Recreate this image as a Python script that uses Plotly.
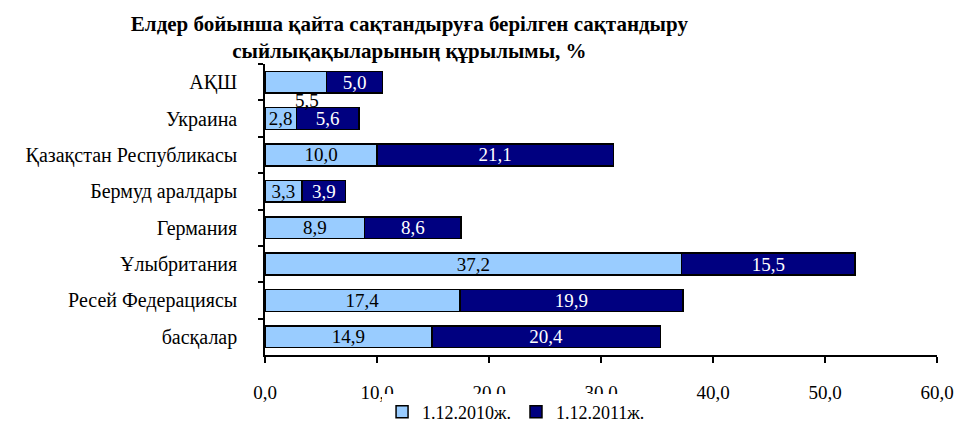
import plotly.graph_objects as go

categories = ["АҚШ", "Украина", "Қазақстан Республикасы", "Бермуд аралдары",
              "Германия", "Ұлыбритания", "Ресей Федерациясы", "басқалар"]
values_2010 = [5.5, 2.8, 10.0, 3.3, 8.9, 37.2, 17.4, 14.9]
values_2011 = [5.0, 5.6, 21.1, 3.9, 8.6, 15.5, 19.9, 20.4]
series_names = ["1.12.2010ж.", "1.12.2011ж."]
x_ticks = [0, 10, 20, 30, 40, 50, 60]

def fmt(v):
    return f"{v:.1f}".replace(".", ",")

FONT = "Liberation Serif, Times New Roman, serif"

# first label (АҚШ 2010) is displaced below the bar in the original
text_2010 = ["" if i == 0 else fmt(v) for i, v in enumerate(values_2010)]
text_2011 = [fmt(v) for v in values_2011]

fig = go.Figure()
fig.add_trace(go.Bar(
    y=categories, x=values_2010, orientation="h", name=series_names[0],
    marker=dict(color="#99CCFF", line=dict(color="black", width=1.5)),
    text=text_2010, textposition="inside", insidetextanchor="middle",
    textfont=dict(color="black", size=19, family=FONT), constraintext="none",
))
fig.add_trace(go.Bar(
    y=categories, x=values_2011, orientation="h", name=series_names[1],
    marker=dict(color="#000080", line=dict(color="black", width=1.5)),
    text=text_2011, textposition="inside", insidetextanchor="middle",
    textfont=dict(color="white", size=19, family=FONT), constraintext="none",
))

fig.add_annotation(
    x=values_2010[0] / 2 + 1.0, y=0.5, xref="x", yref="y",
    text=fmt(values_2010[0]), showarrow=False,
    font=dict(color="black", size=19, family=FONT),
)

fig.update_layout(
    width=961, height=423,
    barmode="stack", bargap=0.4,
    separators=", ",
    plot_bgcolor="white", paper_bgcolor="white",
    font=dict(family=FONT, size=19, color="black"),
    margin=dict(l=265, r=24, t=64, b=68, autoexpand=False),
    title=dict(
        text="<b>Елдер бойынша қайта сақтандыруға берілген сақтандыру<br>сыйлықақыларының құрылымы, %</b>",
        x=0.426, xanchor="center", xref="container",
        y=1 - 31 / 423, yanchor="middle", yref="container",
        font=dict(size=21, family=FONT, color="black"),
    ),
    xaxis=dict(
        range=[0, 60], tickvals=x_ticks, tickformat=".1f",
        showgrid=False, zeroline=False, automargin=False,
        showline=True, linecolor="black", linewidth=1.5,
        ticks="outside", tickcolor="black", ticklen=6, tickwidth=1.5,
        ticklabelstandoff=13,
        tickfont=dict(size=19, family=FONT),
    ),
    yaxis=dict(
        autorange="reversed", showgrid=False, zeroline=False, automargin=False,
        showline=True, linecolor="black", linewidth=1.5,
        ticks="outside", tickson="boundaries", tickcolor="black",
        ticklen=5, tickwidth=1.5, ticklabelstandoff=22,
        tickfont=dict(size=20, family=FONT),
    ),
    showlegend=True,
    legend=dict(
        orientation="h", xref="container", yref="container",
        x=0.537, xanchor="center", y=1 - 412 / 423, yanchor="middle",
        font=dict(size=18, family=FONT), traceorder="normal",
        itemwidth=30, tracegroupgap=0,
    ),
)

fig.write_html(
    "out.html",
    config={"displayModeBar": False},
    post_script="document.body.style.margin='0';document.body.style.overflow='hidden';",
)
